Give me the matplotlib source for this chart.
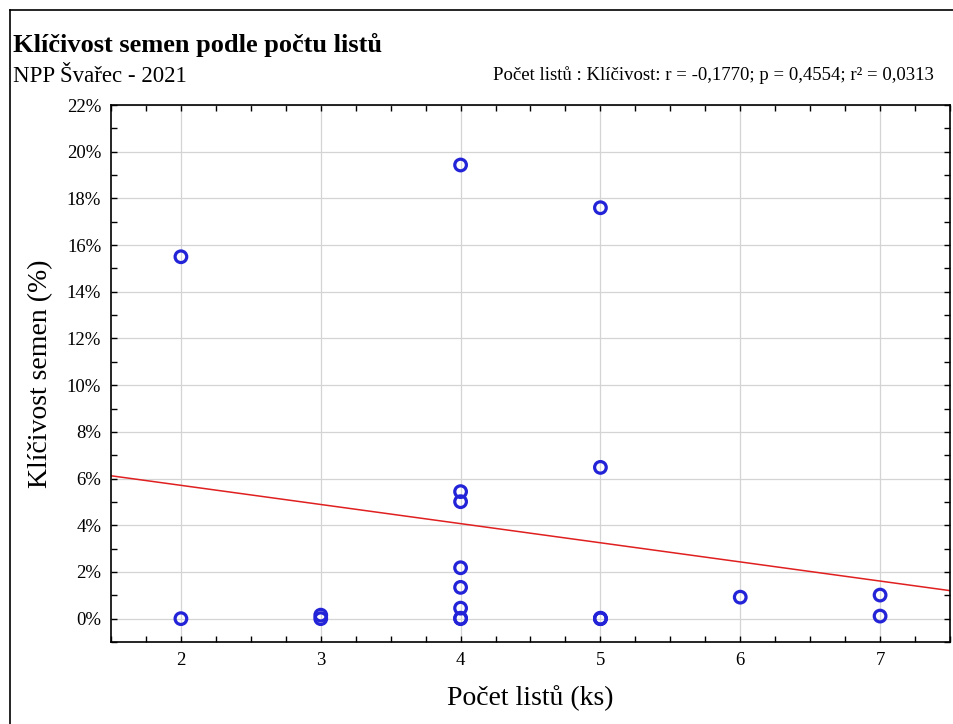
import numpy as np
import matplotlib
matplotlib.use("Agg")
import matplotlib.pyplot as plt
from matplotlib.lines import Line2D
from matplotlib.ticker import MultipleLocator, FuncFormatter

# pocet listu (ks) a klicivost semen (%)
listy = [2, 2, 3, 3, 4, 4, 4, 4, 4, 4, 4, 4, 5, 5, 5, 5, 5, 6, 7, 7]
klicivost = [15.5, 0.0, 0.15, 0.0,
             19.43, 5.44, 5.01, 2.18, 1.34, 0.45, 0.02, 0.0,
             17.6, 6.48, 0.0, 0.0, 0.02,
             0.92, 1.01, 0.11]

x_ticks = [2, 3, 4, 5, 6, 7]
y_ticks = list(range(0, 23, 2))

titulek = "Klíčivost semen podle počtu listů"
podtitulek = "NPP Švařec - 2021"
statistika = "Počet listů : Klíčivost: r = -0,1770; p = 0,4554; r² = 0,0313"

plt.rcParams['font.family'] = ['Liberation Serif', 'DejaVu Serif']

W, H = 954, 724
fig = plt.figure(figsize=(W / 100, H / 100), dpi=100)
fig.patch.set_facecolor('white')

# ramecek okolo grafu (jen levy a horni okraj je videt)
fig.add_artist(Line2D([10 / W, 10 / W], [0, 1 - 10 / H], color='black', lw=1.2, transform=fig.transFigure))
fig.add_artist(Line2D([10 / W, 1], [1 - 10 / H, 1 - 10 / H], color='black', lw=1.2, transform=fig.transFigure))

left, right, top, bottom = 111, 950, 105, 642
ax = fig.add_axes([left / W, 1 - bottom / H, (right - left) / W, (bottom - top) / H])

ax.set_xlim(1.5, 7.5)
ax.set_ylim(-1, 22)
ax.set_xticks(x_ticks)
ax.set_yticks(y_ticks)
ax.xaxis.set_minor_locator(MultipleLocator(0.25))
ax.yaxis.set_minor_locator(MultipleLocator(1))
ax.yaxis.set_major_formatter(FuncFormatter(lambda v, p: f"{v:.0f}%"))

ax.grid(True, which='major', color='#d4d4d4', lw=0.9)
ax.set_axisbelow(True)

ax.tick_params(which='both', direction='in', top=True, right=True, length=4, width=1,
               labelsize=13.5, pad=7)
for s in ax.spines.values():
    s.set_linewidth(1.2)

# regresni primka
k, q = np.polyfit(listy, klicivost, 1)
xx = np.array([1.5, 7.5])
ax.plot(xx, k * xx + q, color='#e02020', lw=1.1, zorder=2)

ax.scatter(listy, klicivost, s=70, facecolors='none', edgecolors='#2323d8', linewidths=2.3, zorder=3)

ax.set_xlabel("Počet listů (ks)", fontsize=20, labelpad=12)
ax.set_ylabel("Klíčivost semen (%)", fontsize=20, labelpad=10)

fig.text(13 / W, 1 - 45 / H, titulek, fontsize=19, fontweight='bold', va='center', ha='left')
fig.text(13 / W, 1 - 76 / H, podtitulek, fontsize=16.5, va='center', ha='left')
fig.text(934 / W, 1 - 75 / H, statistika, fontsize=13.5, va='center', ha='right')

fig.savefig("out.png", dpi=100)
